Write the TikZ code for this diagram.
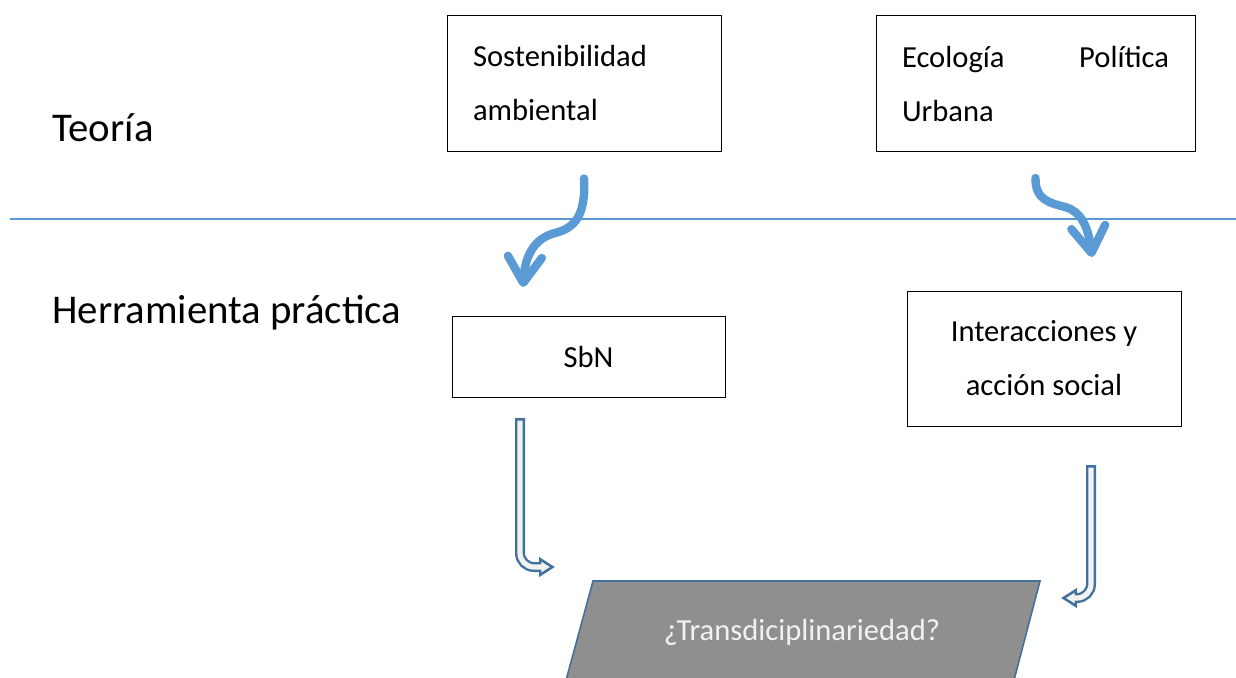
\documentclass[tikz,border=0pt]{standalone}
\usepackage{fontspec}
\setmainfont{Carlito}
\usetikzlibrary{arrows.meta, calc, positioning}
\definecolor{officeblue}{RGB}{91,155,213}
\definecolor{darkblue}{RGB}{65,113,156}
\definecolor{lightfill}{RGB}{242,242,242}
\definecolor{shapegray}{RGB}{143,143,143}

\tikzset{
    conceptbox/.style={draw=black, line width=0.5pt, inner xsep=13pt, minimum width=137pt, minimum height=68pt, font=\fontsize{15.3}{27}\selectfont},
    levellabel/.style={anchor=west, inner sep=0pt, font=\fontsize{20.4}{24}\selectfont},
    curvedarrow/.style={officeblue, line width=4.2pt, line cap=round, -{Straight Barb[length=13pt, width=17pt, round]}},
    hollowouter/.style={darkblue, line width=5pt, rounded corners=7pt, -{Triangle[length=8pt, width=9.5pt]}},
    hollowinner/.style={lightfill, line width=2.6pt, rounded corners=7pt, shorten >=2.5pt, -{Triangle[length=4.3pt, width=5pt]}},
}

\begin{document}
\begin{tikzpicture}[x=0.5pt, y=-0.5pt]
    \useasboundingbox (0,0) rectangle (1236,677);
    \clip (0,0) rectangle (1236,677);

    % Levels
    \node[levellabel] (teoria) at (52,128) {Teoría};
    \node[levellabel] (herramienta) at (52,313) {Herramienta práctica};
    \draw[officeblue, line width=0.6pt] (10,219) -- (1236,219);

    % Theory boxes
    \node[conceptbox, text width=111pt, align=left] (sost) at (584,83) {Sostenibilidad\\ambiental};
    \node[conceptbox, text width=133.5pt, minimum width=159.5pt, align=left] (eco) at (1035.5,83.5) {Ecología \hfill Política\\Urbana};

    % Practical tools
    \node[conceptbox, minimum width=136.5pt, minimum height=40.5pt] (sbn) at (588.5,356.5) {SbN};
    \node[conceptbox, minimum height=67.5pt, align=center] (inter) at (1044,358.5) {Interacciones y\\acción social};

    % Open question
    \draw[darkblue, line width=0.8pt, fill=shapegray] (593,581) -- (1040,581) -- (1013,684) -- (565,684) -- cycle;
    \node[text=lightfill, font=\fontsize{15.3}{18}\selectfont] (trans) at (802,632) {¿Transdiciplinariedad?};

    % Theory to practice
    \draw[curvedarrow] ($(sost.south)+(0,27)$) .. controls (586,215) and (575,228) .. (555,233)
        .. controls (535,238) and (525,255) .. (523,287);
    \draw[curvedarrow] ($(eco.south)+(0,26)$) .. controls (1035,200) and (1050,203) .. (1065,207)
        .. controls (1080,211) and (1088,225) .. (1092,257);

    % Practice to question
    \coordinate (sbnout) at (520,418);
    \coordinate (transleft) at (555,567);
    \coordinate (interout) at (1091,465);
    \coordinate (transright) at (1061,598);
    \draw[hollowouter] (sbnout) |- (transleft);
    \draw[hollowinner] ($(sbnout)+(0,2.5)$) |- (transleft);
    \draw[hollowouter] (interout) |- (transright);
    \draw[hollowinner] ($(interout)+(0,2.5)$) |- (transright);
\end{tikzpicture}
\end{document}
